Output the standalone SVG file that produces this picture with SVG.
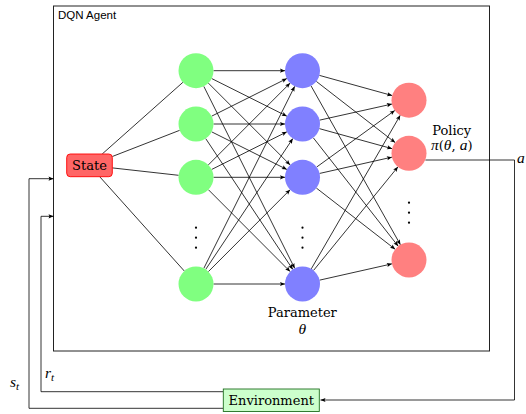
<svg xmlns="http://www.w3.org/2000/svg" width="526" height="414" viewBox="0 0 526 414">
<style>
.edge{stroke:#000;stroke-width:0.8;fill:none}
.arr{marker-end:url(#ah)}
.g{fill:#80ff80}
.b{fill:#8080ff}
.r{fill:#ff8080}
.dot{fill:#000}
</style>
<defs>
<marker id="ah" markerUnits="userSpaceOnUse" markerWidth="8" markerHeight="6" refX="5" refY="3" orient="auto" overflow="visible">
<path d="M0,0.9 L5,3 L0,5.1 L1,3 Z" fill="#000"/>
</marker>
</defs>

<g id="agent">
<rect x="53.5" y="6" width="436" height="345" fill="none" stroke="#222" stroke-width="1"/>
<text x="58" y="19" font-family="'Liberation Sans', Arial, sans-serif" font-size="11.5" fill="#000">DQN Agent</text>
</g>

<g id="connectors">
<line class="edge" x1="102.2" y1="154" x2="182.9" y2="82.3"/>
<line class="edge" x1="112.3" y1="156.5" x2="179.7" y2="130.3"/>
<line class="edge" x1="112.3" y1="167.9" x2="178.6" y2="175.3"/>
<line class="edge" x1="99.6" y1="176.6" x2="184.3" y2="271"/>
<line class="edge arr" x1="213.5" y1="70.7" x2="285" y2="70.7"/>
<line class="edge arr" x1="211.65" y1="78.53" x2="286.85" y2="116.17"/>
<line class="edge arr" x1="208.37" y1="83.08" x2="290.13" y2="164.92"/>
<line class="edge arr" x1="203.82" y1="86.36" x2="294.68" y2="268.34"/>
<line class="edge arr" x1="211.65" y1="116.17" x2="286.85" y2="78.53"/>
<line class="edge arr" x1="213.5" y1="124" x2="285" y2="124"/>
<line class="edge arr" x1="211.65" y1="131.83" x2="286.85" y2="169.47"/>
<line class="edge arr" x1="205.7" y1="138.57" x2="292.8" y2="269.43"/>
<line class="edge arr" x1="208.37" y1="164.92" x2="290.13" y2="83.08"/>
<line class="edge arr" x1="211.65" y1="169.47" x2="286.85" y2="131.83"/>
<line class="edge arr" x1="213.5" y1="177.3" x2="285" y2="177.3"/>
<line class="edge arr" x1="208.37" y1="189.68" x2="290.13" y2="271.62"/>
<line class="edge arr" x1="203.82" y1="268.34" x2="294.68" y2="86.36"/>
<line class="edge arr" x1="205.7" y1="269.43" x2="292.8" y2="138.57"/>
<line class="edge arr" x1="208.37" y1="271.62" x2="290.13" y2="189.68"/>
<line class="edge arr" x1="213.5" y1="284" x2="285" y2="284"/>
<line class="edge arr" x1="319.37" y1="75.37" x2="392.13" y2="95.53"/>
<line class="edge arr" x1="316.33" y1="81.42" x2="395.17" y2="142.58"/>
<line class="edge arr" x1="311.08" y1="85.95" x2="400.42" y2="244.75"/>
<line class="edge arr" x1="319.57" y1="120.15" x2="391.93" y2="104.05"/>
<line class="edge arr" x1="319.37" y1="128.64" x2="392.13" y2="148.66"/>
<line class="edge arr" x1="313.29" y1="137.78" x2="398.21" y2="246.22"/>
<line class="edge arr" x1="316.67" y1="167.04" x2="394.83" y2="110.46"/>
<line class="edge arr" x1="319.57" y1="173.45" x2="391.93" y2="157.15"/>
<line class="edge arr" x1="316.33" y1="188.03" x2="395.17" y2="249.27"/>
<line class="edge arr" x1="311.27" y1="268.86" x2="400.23" y2="115.34"/>
<line class="edge arr" x1="313.55" y1="270.43" x2="397.95" y2="166.87"/>
<line class="edge arr" x1="319.57" y1="280.15" x2="391.93" y2="263.85"/>
<polyline class="edge arr" points="425.4,160 514.5,160 514.5,400 320.5,400"/>
<polyline class="edge arr" points="223.3,408.3 29,408.3 29,178.7 53.5,178.7"/>
<polyline class="edge arr" points="223.3,391.7 41,391.7 41,216.3 53.5,216.3"/>
</g>

<g id="state">
<rect x="66.7" y="154" width="45.6" height="22.7" rx="3.5" fill="#ff6666" stroke="#ff0000" stroke-width="0.9"/>
<text x="89.5" y="170" font-family="'DejaVu Serif', serif" font-size="13" text-anchor="middle" fill="#000">State</text>
</g>

<g id="input-layer">
<circle class="g" cx="196" cy="70.7" r="17.5"/>
<circle class="g" cx="196" cy="124" r="17.5"/>
<circle class="g" cx="196" cy="177.3" r="17.5"/>
<circle class="g" cx="196" cy="284" r="17.5"/>
<circle class="dot" cx="196" cy="227.7" r="1.1"/>
<circle class="dot" cx="196" cy="237.7" r="1.1"/>
<circle class="dot" cx="196" cy="247.7" r="1.1"/>
</g>

<g id="hidden-layer">
<circle class="b" cx="302.5" cy="70.7" r="17.5"/>
<circle class="b" cx="302.5" cy="124" r="17.5"/>
<circle class="b" cx="302.5" cy="177.3" r="17.5"/>
<circle class="b" cx="302.5" cy="284" r="17.5"/>
<circle class="dot" cx="302.5" cy="227.7" r="1.1"/>
<circle class="dot" cx="302.5" cy="237.7" r="1.1"/>
<circle class="dot" cx="302.5" cy="247.7" r="1.1"/>
<text x="302.3" y="317" font-family="'DejaVu Serif', serif" font-size="13" text-anchor="middle" fill="#000">Parameter</text>
<text x="302.3" y="333.5" font-family="'Liberation Serif', serif" font-style="italic" font-size="15.5" text-anchor="middle" fill="#000">θ</text>
</g>

<g id="output-layer">
<circle class="r" cx="409" cy="100.2" r="17.5"/>
<circle class="r" cx="409" cy="153.3" r="17.5"/>
<circle class="r" cx="409" cy="260" r="17.5"/>
<circle class="dot" cx="409" cy="202.7" r="1.1"/>
<circle class="dot" cx="409" cy="212.7" r="1.1"/>
<circle class="dot" cx="409" cy="222.7" r="1.1"/>
<text x="451.7" y="134.5" font-family="'DejaVu Serif', serif" font-size="13" text-anchor="middle" fill="#000">Policy</text>
<text x="451.7" y="150" font-family="'DejaVu Serif', serif" font-size="13" text-anchor="middle" fill="#000"><tspan font-family="'Liberation Serif', serif" font-style="italic" font-size="15.5">π</tspan>(<tspan font-family="'Liberation Serif', serif" font-style="italic" font-size="15.5">θ</tspan>, <tspan font-family="'Liberation Serif', serif" font-style="italic" font-size="15.5">a</tspan>)</text>
</g>

<g id="environment">
<rect x="223.3" y="389" width="96" height="22.5" fill="#ccffcc" stroke="#1f6f1f" stroke-width="0.9"/>
<text x="271.3" y="405" font-family="'DejaVu Serif', serif" font-size="13" text-anchor="middle" fill="#000">Environment</text>
</g>

<g id="labels">
<text x="517" y="163" font-family="'Liberation Serif', serif" font-style="italic" font-size="15.5" fill="#000">a</text>
<text x="10" y="387" font-family="'Liberation Serif', serif" font-style="italic" font-size="15.5" fill="#000">s<tspan font-size="11" dy="3">t</tspan></text>
<text x="45" y="378" font-family="'Liberation Serif', serif" font-style="italic" font-size="15.5" fill="#000">r<tspan font-size="11" dy="3">t</tspan></text>
</g>
</svg>
